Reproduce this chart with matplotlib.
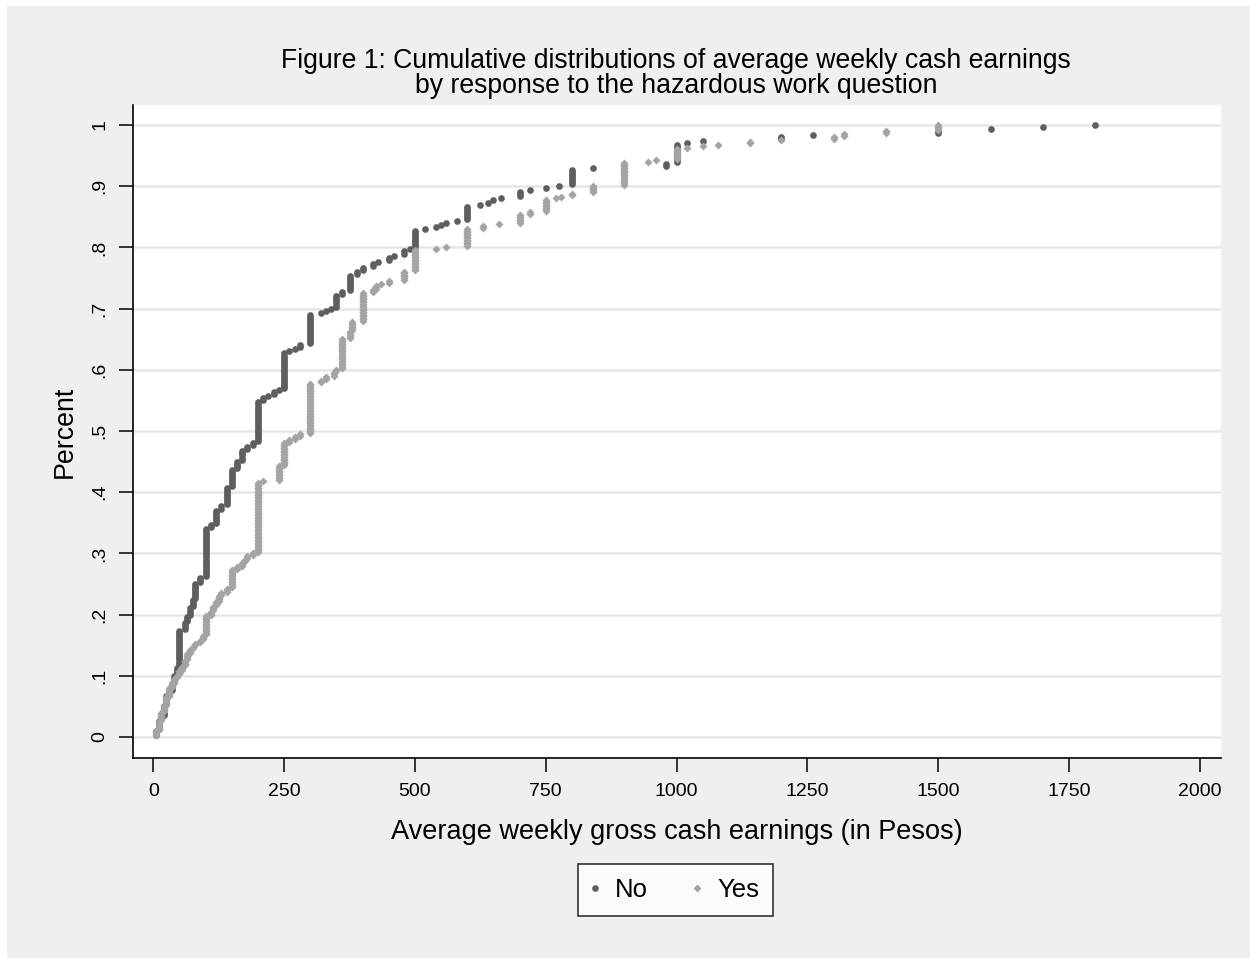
import numpy as np
import matplotlib
matplotlib.use("Agg")
import matplotlib.pyplot as plt
from matplotlib.patches import Rectangle

plt.rcParams['font.family'] = ['Liberation Sans', 'DejaVu Sans']

# ---------------- data ----------------
# distinct weekly earnings values and number of respondents at each value
no_values = [5, 10, 15, 20, 25, 30, 35, 40, 45, 50, 60, 65, 70, 75, 80, 90,
             100, 110, 120, 130, 140, 150, 160, 170, 180, 190, 200, 210, 220,
             230, 240, 250, 260, 270, 280, 300, 320, 330, 340, 350, 360, 375,
             390, 400, 420, 430, 450, 460, 480, 490, 500, 520, 540, 550, 560,
             580, 600, 625, 640, 650, 665, 700, 720, 750, 775, 800, 840, 980,
             1000, 1020, 1050, 1200, 1260, 1500, 1600, 1700, 1800]
no_counts = [3, 5, 2, 5, 5, 2, 4, 4, 4, 18, 4, 3, 4, 4, 8, 3,
             24, 2, 7, 2, 9, 9, 4, 5, 2, 2, 20, 2, 1,
             2, 1, 18, 1, 1, 2, 15, 1, 1, 1, 6, 2, 8,
             2, 2, 2, 1, 2, 1, 2, 1, 9, 1, 1, 1, 1,
             1, 7, 1, 1, 1, 1, 3, 1, 1, 1, 8, 1, 2,
             9, 1, 1, 2, 1, 2, 1, 1, 1]

yes_values = [5, 10, 15, 20, 25, 30, 35, 40, 45, 50, 55, 60, 65, 70, 75, 80,
              90, 95, 100, 110, 115, 120, 125, 130, 140, 150, 160, 170, 175,
              180, 190, 200, 210, 240, 250, 260, 270, 280, 300, 320, 330, 345,
              350, 360, 375, 380, 400, 420, 425, 435, 450, 480, 500, 540, 560,
              600, 630, 660, 700, 720, 750, 770, 780, 800, 840, 900, 945, 960,
              1000, 1020, 1050, 1080, 1140, 1200, 1300, 1320, 1400, 1500]
yes_counts = [4, 6, 6, 4, 6, 6, 3, 3, 2, 3, 3, 4, 4, 3, 2, 2,
              2, 3, 13, 3, 3, 3, 4, 2, 3, 12, 2, 3, 2,
              2, 2, 46, 1, 10, 15, 2, 2, 2, 33, 2, 2, 3,
              2, 20, 5, 6, 19, 2, 3, 1, 2, 6, 14, 1, 1,
              12, 2, 1, 6, 2, 8, 1, 1, 2, 5, 15, 1, 1,
              7, 1, 1, 1, 2, 1, 2, 2, 2, 4]

series_labels = ["No", "Yes"]
x_ticks = [0, 250, 500, 750, 1000, 1250, 1500, 1750, 2000]
y_ticks = [0, .1, .2, .3, .4, .5, .6, .7, .8, .9, 1]
y_ticklabels = ["0", ".1", ".2", ".3", ".4", ".5", ".6", ".7", ".8", ".9", "1"]
title = ("Figure 1: Cumulative distributions of average weekly cash earnings\n"
         "by response to the hazardous work question")
x_label = "Average weekly gross cash earnings (in Pesos)"
y_label = "Percent"


def cumul(values, counts):
    """Expand to observations and give each its cumulative rank / N."""
    obs = np.repeat(np.asarray(values, float), counts)
    y = np.arange(1, obs.size + 1) / obs.size
    return obs, y


W, H = 1250, 958
fig = plt.figure(figsize=(W / 100, H / 100), dpi=100, facecolor="white")
fig.patches.append(Rectangle((7 / W, 0), 1 - 7 / W, 1 - 6 / H,
                             transform=fig.transFigure, facecolor="#efefef",
                             edgecolor="none", zorder=-10))

ax = fig.add_axes([133 / W, (H - 758.3) / H, (1220.7 - 133) / W, (758.3 - 105) / H])
ax.set_facecolor("white")

x_no, y_no = cumul(no_values, no_counts)
x_yes, y_yes = cumul(yes_values, yes_counts)

ax.plot(x_no, y_no, linestyle="none", marker="o", ms=4.8, mec="none",
        mfc="#5e5e5e", label=series_labels[0], zorder=3)
ax.plot(x_yes, y_yes, linestyle="none", marker="D", ms=3.8, mec="none",
        mfc="#a4a4a4", label=series_labels[1], zorder=4)

ax.set_xlim((133 - 153.3) / 0.5233, (1220.7 - 153.3) / 0.5233)
ax.set_ylim((737 - 758.3) / 612, (737 - 105) / 612)

ax.set_xticks(x_ticks)
ax.set_xticklabels([str(t) for t in x_ticks])
ax.set_yticks(y_ticks)
ax.set_yticklabels(y_ticklabels, rotation=90, va="center")
ax.tick_params(axis="both", direction="out", length=10, width=1.1,
               color="black", labelsize=14, pad=8)
ax.grid(axis="y", color="#e6e6e6", linewidth=1.8)
ax.set_axisbelow(True)

for s in ["top", "right"]:
    ax.spines[s].set_visible(False)
for s in ["left", "bottom"]:
    ax.spines[s].set_linewidth(1.2)
    ax.spines[s].set_color("black")

ax.set_xlabel(x_label, fontsize=19.5, labelpad=13.2)
ax.set_ylabel(y_label, fontsize=19.3, labelpad=9.8)
fig.text(676 / W, (H - 73.5) / H, title, ha="center", va="center",
         fontsize=19.2, linespacing=0.97)

leg = fig.legend(loc="center", bbox_to_anchor=(675.5 / W, (H - 890) / H),
                 ncol=2, frameon=True, fancybox=False, fontsize=18.5,
                 handletextpad=0.65, columnspacing=1.83, borderpad=0.55,
                 markerscale=1.0, handlelength=0.23)
leg.get_frame().set_edgecolor("black")
leg.get_frame().set_linewidth(1.2)
leg.get_frame().set_facecolor("white")

fig.savefig("out.png", dpi=100, facecolor=fig.get_facecolor())
